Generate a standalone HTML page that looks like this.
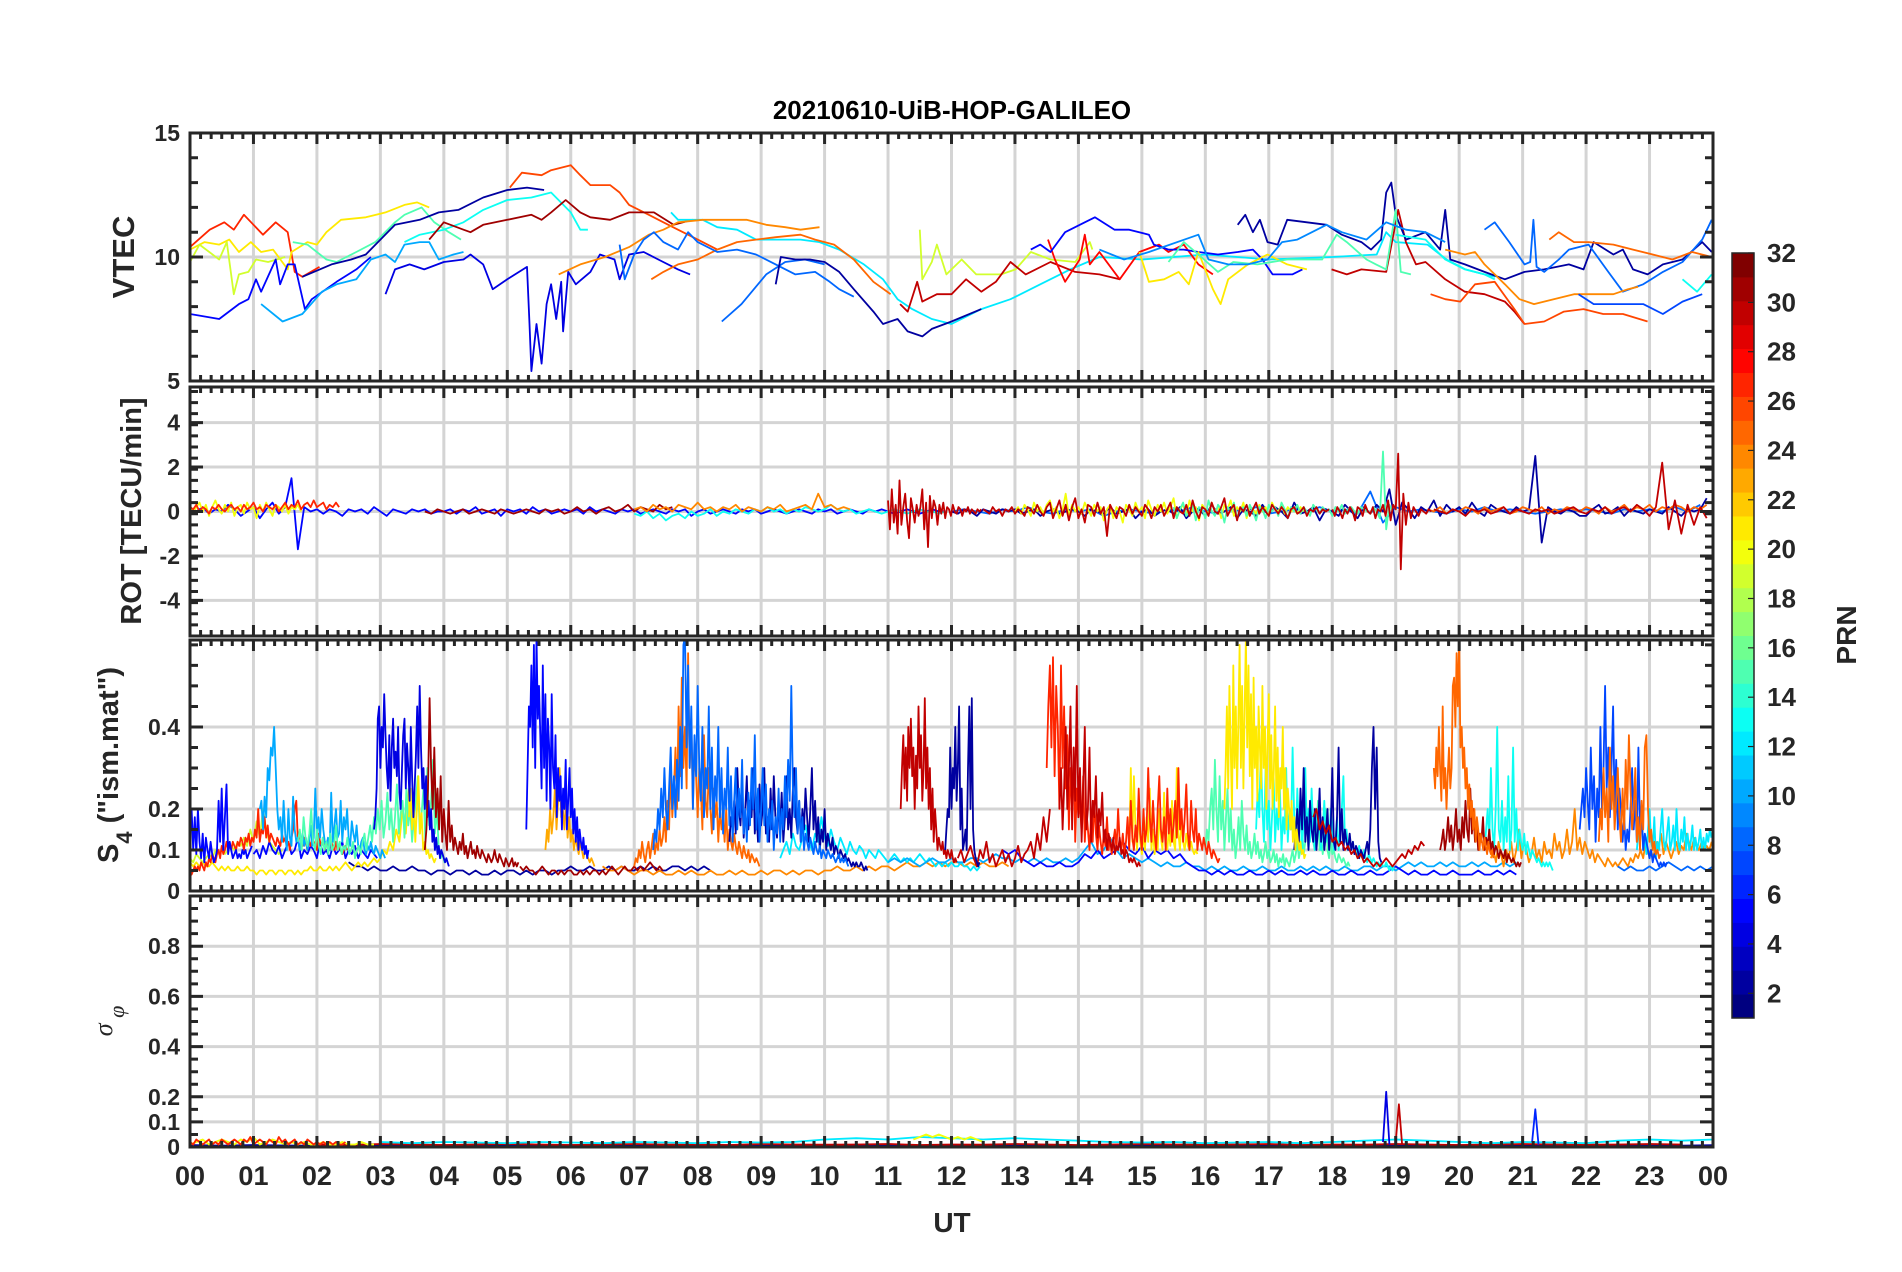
<!DOCTYPE html>
<html><head><meta charset="utf-8"><title>20210610-UiB-HOP-GALILEO</title>
<style>
html,body{margin:0;padding:0;background:#fff;}
svg{display:block;font-family:"Liberation Sans",Arial,sans-serif;}
</style></head>
<body>
<svg id="chart" width="1902" height="1272" viewBox="0 0 1902 1272" xmlns="http://www.w3.org/2000/svg">
<rect x="0" y="0" width="1902" height="1272" fill="#fff"/>
<text x="952" y="119" text-anchor="middle" font-size="26" font-weight="bold" fill="#000">20210610-UiB-HOP-GALILEO</text>
<g id="grids"></g>
<g id="series"></g>
<g id="axes"></g>
<text transform="translate(134,257) rotate(-90)" text-anchor="middle" font-size="31" font-weight="bold" fill="#262626">VTEC</text>
<text transform="translate(141,511) rotate(-90)" text-anchor="middle" font-size="29" font-weight="bold" fill="#262626">ROT [TECU/min]</text>
<text transform="translate(118,765) rotate(-90)" text-anchor="middle" font-size="29" font-weight="bold" fill="#262626">S<tspan font-size="22" dy="14">4</tspan><tspan dy="-14"> ("ism.mat")</tspan></text>
<text transform="translate(112,1021) rotate(-90)" text-anchor="middle" font-size="26" font-style="italic" font-family="Liberation Serif,serif" fill="#262626">σ<tspan font-size="22" dy="12"> φ</tspan></text>
<text x="952" y="1232" text-anchor="middle" font-size="28" font-weight="bold" fill="#262626">UT</text>
<g id="cbar"></g>
<text transform="translate(1856,635) rotate(-90)" text-anchor="middle" font-size="28" font-weight="bold" fill="#262626">PRN</text>
</svg>
<script>
// ===== X axis =====
const hourTickLabels = ["00","01","02","03","04","05","06","07","08","09","10","11","12","13","14","15","16","17","18","19","20","21","22","23","00"];
const colorbarTicks = [2,4,6,8,10,12,14,16,18,20,22,24,26,28,30,32];

// ===== VTEC series: [hour, TECU] =====
const vtecPrn27 = [[0,10.4],[0.31,11.1],[0.54,11.4],[0.69,11.1],[0.85,11.7],[1.15,10.9],[1.35,11.4],[1.54,11.0],[1.65,9.4],[1.77,9.2],[2.04,9.6]];
const vtecPrn21a = [[0,10.3],[0.23,10.6],[0.46,10.5],[0.62,10.7],[0.77,10.2],[0.96,10.6],[1.12,10.2],[1.31,10.3],[1.54,9.5],[1.6,10.2],[1.85,10.6],[2.0,10.5],[2.15,11.0],[2.38,11.5],[2.77,11.6],[3.08,11.8],[3.38,12.1],[3.58,12.2],[3.77,12.0]];
const vtecPrn19a = [[0,9.8],[0.15,10.5],[0.46,9.9],[0.58,10.6],[0.69,8.5],[0.77,9.3],[0.92,9.4],[1.04,9.9],[1.23,9.8],[1.5,10.0]];
const vtecPrn15a = [[1.62,10.6],[1.85,10.5],[2.15,9.9],[2.31,9.8],[2.62,10.2],[2.92,10.6],[3.23,11.4],[3.38,11.7],[3.65,12.0],[3.85,11.4],[4.08,11.0],[4.27,10.7]];
const vtecPrn5a = [[0,7.7],[0.46,7.5],[0.77,8.1],[0.92,8.3],[1.04,9.1],[1.12,8.6],[1.35,9.9],[1.42,8.9],[1.54,9.7],[1.65,9.7],[1.81,7.9],[1.92,8.3],[2.31,9.0],[2.62,9.5],[2.85,10.0]];
const vtecPrn2a = [[1.77,9.2],[2.23,9.7],[2.54,9.9],[2.77,10.1],[3.0,10.7],[3.23,11.3],[3.62,11.5],[3.92,11.8],[4.23,11.9],[4.62,12.4],[5.0,12.7],[5.31,12.8],[5.58,12.7]];
const vtecPrn4 = [[3.08,8.5],[3.23,9.5],[3.46,9.7],[3.69,9.5],[4.0,9.8],[4.31,9.9],[4.42,10.1],[4.62,9.7],[4.77,8.7],[5.0,9.1],[5.31,9.6],[5.35,7.3],[5.38,5.4],[5.46,7.3],[5.54,5.7],[5.62,8.1],[5.69,8.9],[5.77,7.5],[5.85,9.0],[5.88,7.0],[5.96,9.4],[6.08,8.9],[6.31,9.4],[6.46,10.1],[6.69,9.9],[6.77,9.1],[6.92,10.1],[7.15,10.2],[7.38,9.9],[7.69,9.5],[7.88,9.3]];
const vtecPrn10 = [[1.12,8.1],[1.46,7.4],[1.77,7.7],[2.08,8.6],[2.31,8.9],[2.62,9.1],[2.85,9.9],[3.08,10.1],[3.23,9.8],[3.38,10.5],[3.62,10.6],[3.77,10.6],[3.92,9.9],[4.15,10.1],[4.31,10.2]];
const vtecPrn13a = [[3.38,10.6],[3.62,10.9],[4.0,11.1],[4.31,11.4],[4.62,11.9],[5.0,12.3],[5.38,12.4],[5.69,12.6],[6.0,11.8],[6.15,11.1],[6.27,11.1]];
const vtecPrn26a = [[5.04,12.8],[5.23,13.4],[5.54,13.3],[5.69,13.5],[6.0,13.7],[6.15,13.3],[6.31,12.9],[6.62,12.9],[6.77,12.6],[6.92,12.1],[7.23,11.7],[7.46,11.4],[7.69,11.1],[8.0,10.7],[8.31,10.3]];
const vtecPrn31a = [[3.77,10.7],[4.0,11.4],[4.31,11.1],[4.42,11.0],[4.62,11.3],[5.0,11.5],[5.38,11.7],[5.54,11.5],[5.69,11.8],[5.92,12.3],[6.15,11.8],[6.31,11.6],[6.62,11.5],[6.92,11.8],[7.31,11.8],[7.62,11.3],[7.92,11.5]];
const vtecPrn12 = [[7.58,11.8],[7.69,11.5],[8.08,11.5],[8.31,11.2],[8.62,11.1],[8.92,10.7],[9.23,10.7],[9.62,10.7],[9.92,10.6],[10.23,10.3],[10.62,9.7],[10.92,9.1],[11.15,8.3],[11.38,7.9],[11.69,7.5],[12.0,7.3],[12.47,7.9],[12.93,8.3],[13.4,8.9],[13.87,9.5],[14.33,10.0],[15,9.9],[16,10.1],[17,9.9],[18,10.0],[18.7,10.1],[18.85,11.0],[19,10.6],[19.5,10.5],[19.8,9.9],[20.1,9.5],[20.4,9.3],[20.57,9.2]];
const vtecPrn24a = [[5.81,9.3],[6.15,9.7],[6.54,10.0],[6.92,10.4],[7.23,10.9],[7.46,11.1],[7.69,11.4],[8.08,11.5],[8.46,11.5],[8.77,11.5],[9.08,11.3],[9.38,11.2],[9.62,11.1],[9.92,11.2]];
const vtecPrn25a = [[7.27,9.1],[7.46,9.4],[7.69,9.7],[8.0,9.9],[8.31,10.3],[8.62,10.6],[8.92,10.7],[9.23,10.8],[9.62,10.9],[9.85,10.7],[10.15,10.5],[10.46,9.9],[10.77,9.0],[11.04,8.5]];
const vtecPrn8a = [[6.77,10.5],[6.85,9.1],[7.0,10.1],[7.15,10.7],[7.31,11.0],[7.46,10.6],[7.69,10.3],[7.85,11.0],[8.0,10.6],[8.31,10.2],[8.62,10.3],[8.92,10.1],[9.23,9.7],[9.54,9.3],[9.85,9.4],[10.08,9.0],[10.23,8.7],[10.46,8.4]];
const vtecPrn8b = [[8.38,7.4],[8.69,8.1],[9.08,9.3],[9.38,9.8],[9.69,9.9],[10.0,9.7]];
const vtecPrn2b = [[9.23,8.9],[9.31,10.0],[9.54,9.9],[9.77,9.9],[10.0,9.8],[10.23,9.4],[10.46,8.7],[10.77,7.8],[10.92,7.3],[11.15,7.5],[11.31,7.0],[11.54,6.8],[11.69,7.1],[12.0,7.4],[12.47,7.9]];
const vtecPrn19b = [[11.5,11.1],[11.54,9.1],[11.69,9.8],[11.77,10.5],[11.92,9.3],[12.0,9.5],[12.16,9.9],[12.39,9.3],[12.78,9.3],[13.01,9.5],[13.25,10.2],[13.56,9.9],[13.95,9.8],[14.18,10.6],[14.22,10.3]];
const vtecPrn30a = [[11.19,8.1],[11.31,7.8],[11.46,9.0],[11.54,8.2],[11.77,8.5],[12.0,8.5],[12.23,9.1],[12.47,8.6],[12.7,9.0],[12.93,9.8],[13.17,9.3],[13.56,9.8],[13.95,9.4],[14.33,9.3],[14.65,9.1]];
const vtecPrn30b = [[17.99,9.5],[18.23,9.3],[18.46,9.5],[18.85,9.4],[19.04,11.9],[19.16,10.6],[19.32,9.7],[19.47,9.8],[19.78,9.1],[20.09,8.6],[20.4,8.5],[20.72,8.2],[20.87,7.8],[21.03,7.3]];
const vtecPrn28 = [[13.52,10.7],[13.63,9.9],[13.79,9.0],[14.02,9.9],[14.1,10.9],[14.18,9.7],[14.33,10.2],[14.65,9.1],[14.96,10.2],[15.27,10.5],[15.42,10.2],[15.66,10.5],[15.89,9.7],[16.12,9.3]];
const vtecPrn5b = [[13.25,10.3],[13.4,10.5],[13.56,10.2],[13.79,11.0],[14.1,11.4],[14.26,11.6],[14.57,11.1],[14.8,11.1],[15.11,10.9],[15.19,10.5],[15.42,10.3],[15.66,10.3],[15.89,10.2],[16.2,10.1],[16.51,10.2],[16.75,10.3],[16.9,9.9],[17.06,9.3],[17.37,9.3],[17.53,9.5]];
const vtecPrn2c = [[16.51,11.3],[16.63,11.7],[16.75,11.0],[16.86,11.5],[16.98,10.6],[17.14,10.5],[17.29,11.5],[17.6,11.4],[17.91,11.3],[18.15,10.9],[18.46,10.6],[18.61,10.3],[18.77,10.7],[18.85,12.6],[18.93,13.0],[19.0,11.7],[19.16,10.7],[19.47,11.0],[19.7,10.3],[19.78,11.9],[19.86,9.9],[20.09,9.7],[20.4,9.4],[20.72,9.1],[21.03,9.4],[21.34,9.5],[21.73,9.7],[21.96,9.5],[22.12,10.6],[22.43,10.1],[22.58,10.3],[22.74,9.5],[22.97,9.3],[23.21,9.7],[23.52,9.9],[23.83,10.6],[23.98,10.2]];
const vtecPrn21b = [[14.96,10.2],[15.11,9.0],[15.35,9.1],[15.58,9.4],[15.74,8.9],[15.89,10.2],[16.12,8.7],[16.24,8.1],[16.36,9.1],[16.67,9.7],[16.98,10.1],[17.29,9.7],[17.6,9.5]];
const vtecPrn15b = [[15.42,9.8],[15.66,10.6],[15.89,10.1],[16.2,9.4],[16.44,9.8],[16.82,9.7],[17.29,9.9],[17.84,9.9],[18.07,10.9],[18.23,10.6],[18.54,9.9],[18.69,9.7],[18.85,9.5],[19.0,11.9],[19.08,9.4],[19.24,9.3]];
const vtecPrn9 = [[14.33,10.3],[14.72,9.9],[15.11,10.2],[15.89,10.9],[16.05,9.9],[16.36,9.7],[16.67,9.7],[16.98,9.9],[17.21,10.6],[17.45,10.7],[17.91,11.3],[18.15,11.0],[18.54,10.7],[18.85,11.4],[19.16,11.1],[19.47,11.0],[19.78,10.6]];
const vtecPrn13b = [[19.0,10.9],[19.47,10.7],[19.78,9.9],[20.09,9.5],[20.4,9.3],[20.56,9.1]];
const vtecPrn13c = [[23.52,9.1],[23.75,8.6],[23.98,9.3]];
const vtecPrn8c = [[20.4,11.1],[20.56,11.4],[20.79,10.6],[21.03,9.7],[21.12,9.8],[21.17,11.5],[21.22,9.6],[21.34,9.4],[21.57,9.9],[21.73,10.3],[22.04,10.5],[22.35,9.4],[22.58,8.6],[22.9,8.9],[23.21,9.4],[23.52,9.8],[23.83,10.7],[23.98,11.5]];
const vtecPrn26b = [[19.55,8.5],[19.78,8.3],[20.02,8.2],[20.25,8.9],[20.56,9.0],[20.87,7.9],[21.03,7.3],[21.34,7.4],[21.65,7.8],[21.96,7.9],[22.27,7.7],[22.58,7.7],[22.97,7.4]];
const vtecPrn24b = [[19.78,10.3],[20.09,10.1],[20.25,10.2],[20.4,9.7],[20.72,8.9],[20.95,8.3],[21.18,8.1],[21.49,8.3],[21.81,8.5],[22.12,8.5],[22.43,8.5],[22.66,8.7],[22.82,8.8]];
const vtecPrn25b = [[21.42,10.7],[21.57,11.0],[21.81,10.6],[22.04,10.6],[22.43,10.5],[22.74,10.3],[23.05,10.1],[23.36,9.9],[23.67,10.2],[23.98,10.0]];
const vtecPrn7 = [[21.88,8.5],[22.12,8.1],[22.51,8.1],[22.9,8.1],[23.21,7.7],[23.52,8.2],[23.83,8.5]];
const vtecSeries = [[27,vtecPrn27],[21,vtecPrn21a],[19,vtecPrn19a],[15,vtecPrn15a],[5,vtecPrn5a],[2,vtecPrn2a],[4,vtecPrn4],[10,vtecPrn10],[13,vtecPrn13a],[26,vtecPrn26a],[31,vtecPrn31a],[12,vtecPrn12],[24,vtecPrn24a],[25,vtecPrn25a],[8,vtecPrn8a],[8,vtecPrn8b],[2,vtecPrn2b],[19,vtecPrn19b],[30,vtecPrn30a],[30,vtecPrn30b],[28,vtecPrn28],[5,vtecPrn5b],[2,vtecPrn2c],[21,vtecPrn21b],[15,vtecPrn15b],[9,vtecPrn9],[13,vtecPrn13b],[13,vtecPrn13c],[8,vtecPrn8c],[26,vtecPrn26b],[24,vtecPrn24b],[25,vtecPrn25b],[7,vtecPrn7]];

// ===== ROT series: sampled values =====
const rotPrn27 = [0.2,0.1,0.3,0.0,0.2,0.1,-0.1,0.2,0.1,0.3,0.1,0.0,0.2,0.3,0.1,0.2,0.0,0.3,0.1,0.2,0.4,0.1,0.2,0.0,0.3,0.2,0.1,0.3,0.0,0.2,0.4,0.1,0.3,0.2,0.5,0.1,0.3,0.4,0.2,0.5,0.2,0.3,0.4,0.1,0.3,0.2,0.4,0.2];
const rotPrn20a = [0.3,-0.1,0.2,0.4,0.0,0.3,-0.2,0.2,0.5,0.1,-0.1,0.3,0.0,0.4,-0.2,0.2,0.3,-0.1,0.4,0.1,0.2,-0.3,0.3,0.0,0.4,0.1,-0.2,0.3,0.2,0.0,0.3,-0.1,0.2,0.1,0.3,0.0];
const rotPrn5 = [0.1,0.0,0.2,-0.1,0.1,0.0,0.3,0.1,-0.2,0.0,0.2,-0.3,0.1,0.4,-0.1,0.2,1.5,-1.7,0.2,0.0,0.1,-0.1,0.1,0.0,-0.2,0.1,0.0,0.1,-0.1,0.2,0.0,-0.2,0.1,0.0,-0.1,0.1,0.0,0.1,-0.1,0.0,0.0,0.1,-0.1,0.1,0.0,0.2,-0.1,0.0,0.1,-0.2,0.1,0.0,0.1,-0.1,0.2,0.0,0.1,-0.1,0.0,0.1,0.0,0.1,-0.1,0.2,0.0,0.1,0.0,-0.1,0.1,0.0,0.1,-0.1,0.0,0.1,0.0,-0.1,0.1,0.0,0.1,-0.2,0.0,0.1,-0.1,0.0,0.1,0.0,-0.1,0.1,0.0,0.1,-0.1,0.0,0.1,0.0,-0.1,0.0,0.1,0.0,-0.1,0.1,0.0,0.1,-0.1,0.0,0.1,0.0,-0.1,0.1,0.0,0.1,0.0,-0.1,0.0,0.1,0.0,-0.1,0.0,0.1,0.0,0.0];
const rotPrn31 = [0.0,-0.1,0.1,0.0,-0.1,0.0,0.1,-0.1,0.0,0.1,0.0,-0.1,0.1,0.0,-0.1,0.0,0.1,0.0,-0.1,0.1,0.0,0.1,-0.1,0.0,0.2,0.0,0.1,-0.1,0.1,0.2,0.0,0.1,0.3,0.0,0.2,0.1,0.0,0.3,0.1,0.2];
const rotPrn13 = [-0.1,-0.2,0.0,-0.3,-0.1,-0.4,-0.2,-0.1,-0.3,0.0,-0.2,-0.1,0.1,-0.2,0.0,-0.1,0.1,0.0,-0.1,0.1,0.0,0.2,0.0,0.1,-0.1,0.1,0.0,0.2,0.1,0.0,0.1,0.3,0.1,0.0,0.1,-0.1,0.0,0.1,0.0,-0.1,0.0,0.1,0.0,-0.1,0.0,0.1,0.0,0.0,-0.1,0.0];
const rotPrn24 = [0.1,0.2,0.0,0.3,0.1,0.2,0.0,0.3,0.2,0.1,0.4,0.1,0.2,0.0,0.2,0.1,0.3,0.0,0.2,0.1,0.0,0.2,0.1,0.3,0.0,0.1,0.2,0.3,0.1,0.8,0.2,0.3,0.1,0.2,0.1];
const rotPrn30a = [0.5,-0.8,1.0,-0.5,0.3,-1.0,1.4,-0.6,0.2,0.8,-0.4,-1.2,0.6,0.1,-0.5,0.3,-0.2,0.2,1.0,-0.8,0.4,-1.6,0.7,-0.3,0.5,0.2,-0.6,0.3,-0.1,0.4,-0.3,0.2,0.1,-0.2,0.3,0.0,-0.1,0.2,0.1,-0.2,0.1,0.0,0.2,-0.1,0.1,0.0,-0.1,0.1,0.0,0.1];
const rotPrn30b = [0.1,0.0,-0.1,0.2,0.0,0.1,-0.2,0.1,0.0,0.2,-0.1,0.1,0.0,-0.2,0.2,0.1,-0.1,0.3,0.0,-0.2,0.2,0.4,-0.3,0.1,0.5,-0.2,0.3,-0.4,0.2,0.6,-0.3,0.1,-0.5,0.3,0.2,-0.2,0.4,-0.1,0.2,-1.1,0.3,0.0,-0.3,0.2,0.1,-0.2,0.3,-0.1,0.2,0.0,-0.2,0.3,0.1,-0.3,0.2,0.0,0.3,-0.2,0.1,0.4,-0.3,0.2,0.0,-0.1,0.3,-0.2,0.5,0.0,-0.3,0.2,0.1,-0.2,0.4,0.0,-0.1,0.2,0.6,-0.2,0.1,0.3,-0.4,0.2,0.0,0.3,-0.2,0.1,0.4,-0.1,0.2,0.0,-0.2,0.3,0.1,-0.1,0.2,0.0,-0.3,0.1,0.2,-0.1,0.0,0.2,-0.2,0.1,0.0,0.2,-0.1,0.1,0.0,0.1];
const rotPrn30c = [0.1,-0.2,0.2,0.0,-0.3,0.1,-0.1,0.2,0.0,-0.4,0.2,0.1,-0.2,0.3,0.0,-0.1,0.2,-0.3,0.1,0.0,0.3,-0.2,0.5,-0.4,0.3,0.1,2.6,-2.6,0.8,-0.6,0.4,-0.3,0.2,0.0,-0.2,0.1,0.0,-0.1,0.1,0.0];
const rotPrn30d = [0.1,0.0,-0.1,0.1,0.0,-0.2,0.1,0.0,0.1,-0.1,0.0,0.2,-0.1,0.1,0.0,-0.1,0.1,0.0,0.1,-0.1,0.0,0.1,0.2,0.0,-0.1,0.1,0.0,0.2,-0.1,0.1,0.2,0.0,0.3,0.1,-0.2,0.2,2.2,-0.8,0.5,-1.0,0.3,-0.6,0.2,-0.3];
const rotPrn20b = [0.0,0.2,-0.1,0.3,0.1,-0.2,0.4,0.0,0.2,-0.1,0.3,0.5,0.0,0.2,-0.3,0.1,0.8,-0.2,0.3,0.0,0.2,-0.1,0.4,0.1,-0.2,0.3,0.0,0.2,-0.4,0.1,0.3,-0.3,0.2,0.0,-0.5,0.3,0.1,-0.2,0.4,0.0,0.2,-0.3,0.5,0.1,-0.2,0.3,0.0,0.4,-0.1,0.2,0.6,-0.3,0.1,0.3,-0.2,0.5,0.0,0.2,-0.4,0.3,0.1,-0.1,0.4,0.0,0.2,-0.3,0.3,0.1,0.5,-0.2,0.2,0.0,0.4,-0.3,0.2,0.1,-0.1,0.3,0.0,0.2,-0.2,0.4,0.1,0.0,0.3,-0.1,0.2,0.0,0.1,-0.1,0.2,0.0];
const rotPrn15 = [0.2,-0.3,0.1,0.4,-0.2,0.0,0.3,-0.4,0.2,0.1,-0.3,0.5,0.0,-0.2,0.3,0.1,-0.5,0.2,0.0,0.4,-0.3,0.1,0.2,-0.2,0.3,0.0,-0.4,0.2,0.1,-0.3,0.3,0.0,0.2,-0.2,0.4,0.1,-0.3,0.2,0.0,0.3,-0.1,0.2,0.0,-0.2,0.3,0.1,-0.1,0.2,0.0,0.1,-0.2,0.2,0.0,0.3,-0.1,0.1,0.2,0.0,-0.1,0.2,0.1,0.0,-0.1,0.2,0.0,-0.3,2.7,-0.8,0.3,0.0];
const rotPrn2 = [0.0,-0.1,0.1,0.0,-0.2,0.1,0.0,-0.1,0.1,0.0,0.1,-0.1,0.0,0.1,-0.2,0.0,0.1,-0.1,0.0,0.1,0.0,-0.2,0.1,0.0,-0.1,0.2,-0.1,0.0,0.1,-0.3,0.0,0.1,-0.2,0.0,0.1,-0.1,0.2,-0.3,0.0,0.1,-0.2,0.3,-0.1,0.0,0.2,-0.3,0.1,0.0,-0.2,0.3,-0.1,0.2,0.0,-0.3,0.4,-0.1,0.0,0.2,-0.4,0.1,0.0,-0.2,0.3,0.0,-0.3,0.2,-0.1,0.3,0.0,1.0,-0.6,0.4,0.1,-0.3,0.2,0.0,0.5,-0.2,0.3,0.0,0.2,-0.1,0.4,0.0,-0.2,0.3,0.1,0.0,-0.1,0.2,0.0,0.1,2.5,-1.4,0.2,0.0,-0.1,0.1,0.0,-0.2,-0.2,0.1,0.3,-0.1,0.0,0.2,-0.2,0.1,0.0,-0.1,0.1,0.0,-0.1,0.2,0.0,-0.2,0.1,0.0,0.1,0.6];
const rotPrn25 = [0.1,0.0,0.2,-0.1,0.1,0.0,0.2,0.1,-0.1,0.2,0.0,0.1,0.2,-0.1,0.0,0.2,0.1,0.0,0.2,-0.1,0.1,0.0,0.2,0.1,0.0,0.2,0.1,-0.1,0.2,0.0,0.1,0.3,0.0,0.2,0.1,0.3,0.0,0.2,0.1,0.3,0.2,0.0,0.2,0.1,0.3];
const rotPrn8 = [0.0,0.1,0.0,-0.1,0.1,0.0,0.2,0.0,-0.1,0.1,0.0,0.1,-0.2,0.0,0.1,0.0,-0.1,0.1,0.0,0.2,0.0,-0.1,0.1,0.0,0.2,-0.1,0.0,0.1,0.0,0.2,0.0,0.1,-0.1,0.9,-0.5,0.2,0.0,0.1,0.0,-0.1,0.1,0.0,0.2,0.0,0.1,0.0,-0.1,0.0,0.1,0.0,0.1,0.0,-0.1,0.1,0.0,0.1,0.0,0.2,0.0,0.3];
// [prn, start hour, sample interval (h), values]
const rotSeries = [[5,0,0.1,rotPrn5],[31,3.7,0.1,rotPrn31],[13,7,0.1,rotPrn13],[24,7,0.1,rotPrn24],[20,0,0.05,rotPrn20a],[27,0,0.05,rotPrn27],[8,12,0.2,rotPrn8],[2,12,0.1,rotPrn2],[20,13,0.05,rotPrn20b],[15,15.5,0.05,rotPrn15],[25,19.5,0.1,rotPrn25],[30,11,0.03,rotPrn30a],[30,12.5,0.05,rotPrn30b],[30,18,0.04,rotPrn30c],[30,19.6,0.1,rotPrn30d]];

// ===== S4 series =====
const s4Prn5a = [.15,.2,.1,.18,.09,.2,.12,.08,.14,.07,.13,.1,.08,.12,.09,.07,.08,.1,.22,.12,.25,.1,.18,.26,.09,.12,.1,.08,.09,.1,.08,.09,.08,.1,.09,.1,.08,.09,.1,.11];
const s4Prn5b = [.09,.1,.08,.11,.09,.12,.1,.09,.11,.08,.1,.12,.09,.1,.13,.08,.1,.09,.11,.1,.08,.12,.09,.1,.08,.11,.09,.1,.12,.08,.1,.09,.11,.08,.1,.09,.08,.1,.09,.08];
const s4Prn10a = [.2,.22,.15,.23,.18,.3,.27,.35,.33,.4,.3,.2,.15,.18,.12,.22,.14,.1,.2,.13,.11,.23,.15,.12,.13,.1,.12,.14,.11,.13,.1,.12,.16,.11,.13,.25,.14,.18,.13,.2,.15,.12,.11,.13,.1,.24,.12,.16,.2,.13,.14,.22,.12,.18,.15,.2,.13,.11,.17,.14,.12,.16,.11,.1,.12,.13,.1,.09,.11,.1,.12,.1,.09,.11,.1,.09,.08,.1,.09,.08];
const s4Prn27a = [.05,.04,.05,.06,.05,.06,.05,.07,.06,.05,.07,.06,.08,.07,.09,.08,.07,.09,.1,.08,.11,.09,.1,.12,.1,.11,.1,.12,.11,.1,.12,.11,.13,.12,.1,.13,.12,.14,.11,.13,.12,.15,.13,.2,.12,.15,.14,.18,.13,.16,.12,.14,.13,.12,.11,.13,.12,.11,.14,.12,.13,.11,.12,.1,.13,.15,.2,.22,.12,.14,.12,.11,.13,.12,.1,.12,.11,.13,.12,.11,.1,.14,.12,.11,.13,.1,.12,.11,.1,.12,.11,.1,.12,.1,.11,.1,.09,.1,.11,.1];
const s4Prn21a = [.07,.06,.07,.06,.07,.06,.06,.07,.06,.05,.06,.05,.06,.05,.05,.06,.05,.05,.06,.05,.05,.04,.05,.05,.04,.05,.05,.04,.05,.05,.04,.05,.05,.04,.05,.04,.05,.05,.06,.05,.05,.06,.05,.05,.06,.05,.06,.05,.06,.07,.06,.05,.06,.07,.06,.07,.06,.07,.08,.07,.08,.1,.09,.12,.1,.15,.12,.2,.14,.25];
const s4Prn21b = [.18,.25,.15,.22,.12,.2,.28,.14,.19,.1,.12,.09,.1,.08,.09,.08,.07,.08];
const s4Prn19 = [.08,.07,.09,.08,.07,.08,.09,.08,.1,.09,.1,.09,.1,.11,.1,.12,.11,.13,.11,.15,.12,.17,.13,.2,.15,.12,.11,.1,.09,.1];
const s4Prn15a = [.12,.15,.1,.18,.13,.11,.14,.2,.12,.1,.15,.11,.09,.13,.1,.12,.09,.14,.1,.11,.16,.1,.12,.09,.11,.1,.13,.09,.1,.12,.08,.1,.11,.09,.12,.14,.1,.13,.16,.12,.18,.14,.2,.15,.22,.13,.17,.24,.15,.2,.12,.18,.26,.14,.19,.22,.13,.25,.16,.2,.12,.18,.22,.28,.14,.19,.25,.12,.3,.16,.22,.32,.14,.2,.1,.08,.09,.07,.08];
const s4Prn4 = [.15,.18,.25,.42,.45,.3,.4,.35,.48,.38,.3,.25,.38,.22,.35,.42,.3,.34,.28,.4,.24,.2,.3,.38,.42,.25,.36,.3,.22,.4,.28,.18,.25,.33,.45,.3,.5,.35,.25,.3,.2,.28,.18,.22,.15,.2,.12,.15,.1,.13,.09,.11,.08,.1,.09,.08,.07,.08,.07,.06];
const s4Prn2a = [.07,.06,.06,.05,.06,.05,.05,.06,.05,.05,.06,.05,.05,.04,.05,.05,.04,.05,.05,.04,.05,.04,.04,.05,.04,.05,.05,.04,.05,.04,.05,.05,.04,.05,.05,.06,.05,.05,.06,.05,.05,.06,.05,.06,.05,.05,.06,.05,.06,.05,.05,.06,.06,.05,.06,.05,.06,.05];
const s4Prn31a = [.1,.15,.25,.47,.3,.2,.35,.18,.25,.15,.28,.12,.2,.14,.1,.22,.12,.16,.1,.13,.11,.09,.12,.1,.14,.09,.11,.08,.1,.12,.09,.1,.08,.11,.09,.08,.1,.09,.08,.07,.09,.08,.07,.08,.1,.08,.07,.09,.08,.07,.06,.08,.07,.06,.07,.08,.06,.07,.06,.07];
const s4Prn31b = [.06,.05,.06,.05,.05,.04,.05,.06,.05,.04,.05,.05,.04,.05,.04,.05,.05,.04,.04,.05,.04,.05,.04,.05,.05,.04,.05,.04,.05,.06,.05,.04,.05,.06,.05,.05,.06,.05,.06,.05,.06,.07,.06,.05,.06,.05];
const s4Prn5c = [.15,.3,.45,.4,.55,.35,.6,.3,.62,.42,.5,.38,.25,.55,.3,.48,.22,.42,.35,.2,.48,.3,.25,.38,.18,.3,.22,.28,.15,.25,.2,.32,.15,.22,.3,.18,.25,.14,.2,.12,.18,.1,.15,.12,.1,.13,.09,.11,.08,.1];
const s4Prn23 = [.1,.15,.12,.2,.14,.18,.25,.15,.22,.3,.18,.2,.15,.22,.13,.18,.12,.15,.1,.13,.11,.09,.12,.1,.08,.1,.09,.08,.07,.08,.07,.06];
const s4Prn24a = [.06,.05,.05,.06,.05,.04,.05,.05,.04,.05,.04,.04,.05,.04,.05,.04,.04,.05,.04,.04,.05,.04,.05,.04,.04,.05,.04,.05,.05,.04,.05,.04,.05,.05,.04,.05,.05,.06,.05,.05,.06,.05,.06,.05,.06,.06,.05,.06,.07,.06,.06,.07,.06,.07,.06,.07,.07,.06,.07,.06,.07,.06,.06,.07,.06];
const s4Prn25a = [.06,.08,.07,.1,.08,.12,.09,.07,.1,.12,.08,.11,.14,.09,.12,.1,.15,.11,.13,.18,.12,.22,.15,.3,.18,.25,.35,.2,.45,.28,.52,.3,.4,.25,.58,.3,.42,.2,.35,.28,.18,.3,.25,.15,.38,.22,.18,.3,.2,.14,.25,.18,.22,.12,.2,.15,.18,.12,.2,.1,.15,.12,.1,.14,.11,.09,.12,.1,.08,.11,.09,.08,.1,.07,.09,.08,.07,.08,.07,.06];
const s4Prn8a = [.1,.15,.12,.2,.15,.25,.18,.3,.2,.15,.25,.35,.2,.28,.18,.32,.22,.4,.25,.6,.62,.35,.55,.3,.45,.2,.38,.28,.5,.3,.22,.4,.18,.3,.25,.45,.2,.35,.15,.28,.22,.4,.18,.3,.14,.25,.2,.35,.16,.28,.12,.22,.3,.15,.25,.18,.32,.14,.2,.12,.24,.16,.3,.2,.38,.15,.25,.12,.2,.3,.16,.26,.12,.2,.15,.22,.1,.18,.14,.25,.12,.2,.15,.28,.18,.32,.22,.5,.25,.18,.3,.14,.22,.12,.18,.1,.14,.12,.1,.13,.11,.09,.12,.1,.09,.11,.08,.1,.09,.08,.1,.09,.08,.09,.08,.07,.08,.09,.07,.08,.07,.08,.07,.06];
const s4Prn2b = [.12,.18,.15,.22,.14,.3,.2,.16,.25,.13,.2,.28,.15,.22,.18,.3,.14,.2,.12,.26,.16,.2,.3,.14,.18,.12,.25,.15,.28,.18,.13,.2,.16,.24,.12,.18,.28,.15,.2,.13,.25,.3,.18,.14,.22,.12,.2,.15,.25,.18,.12,.2,.3,.15,.22,.12,.18,.1,.15,.12,.2,.1,.14,.12,.1,.13,.09,.11,.1,.08,.1,.09,.08,.09,.07,.08,.07,.06,.07,.06,.07,.06,.06,.07,.06,.05,.06,.05];
const s4Prn12a = [.08,.1,.12,.09,.14,.11,.1,.13,.16,.12,.1,.14,.12,.18,.13,.11,.15,.12,.1,.13,.11,.09,.12,.1,.09,.11,.1,.08,.1,.09,.08,.1,.09,.08,.07,.08,.09,.08,.07,.08,.07,.08,.07,.08,.09,.08,.07,.08,.07,.06,.07,.06,.07,.06,.07,.06,.06,.07,.06,.06,.05,.06,.05,.06];
const s4Prn30a = [.2,.3,.38,.25,.35,.22,.4,.3,.42,.28,.35,.2,.33,.25,.45,.3,.38,.22,.3,.47,.25,.35,.2,.3,.15,.25,.12,.2,.15,.1,.13,.11,.1,.12,.09,.1,.08,.1,.09,.08,.1,.08,.07,.08,.07];
const s4Prn30b = [.08,.1,.07,.09,.11,.08,.06,.1,.08,.12,.07,.09,.06,.08,.1,.07,.09,.06,.08,.11,.07,.09,.1,.12,.08,.14,.1,.18,.12,.2];
const s4Prn2c = [.1,.15,.2,.18,.35,.2,.3,.25,.4,.22,.3,.45,.15,.25,.1,.12,.15,.1,.3,.45,.2,.47,.15,.1,.08,.07,.06,.07];
const s4Prn27b = [.3,.45,.55,.35,.57,.28,.5,.4,.2,.55,.3,.45,.25,.38,.15,.3,.2,.35,.12,.25,.18,.22,.14,.28,.12,.2,.15,.1,.18,.12,.22,.14,.1,.16,.12,.09,.14,.11,.18,.1,.13,.09,.12,.15,.1,.2,.12,.1,.14,.09,.12,.18,.1,.22,.13,.1,.16,.12,.25,.14,.1,.2,.12,.15,.3,.18,.12,.22,.14,.1,.2,.28,.15,.12,.18,.1,.25,.14,.2,.12,.16,.22,.13,.3,.15,.2,.12,.18,.26,.14,.1,.22,.15,.12,.2,.1,.14,.12,.1,.13,.11,.09,.12,.1,.08,.1,.09,.08,.07,.08];
const s4Prn30c = [.2,.3,.15,.25,.4,.2,.3,.45,.15,.35,.22,.5,.18,.3,.12,.25,.4,.15,.2,.35,.12,.22,.18,.28,.13,.2,.16,.24,.12,.15,.1,.14,.12,.1,.13,.09,.11,.1,.13,.09,.1,.08,.1,.09,.07,.08,.07,.08,.07,.06,.07,.06];
const s4Prn5d = [.1,.09,.1,.08,.07,.06,.07,.06,.06,.07,.06,.06,.07,.09,.08,.1,.08,.09,.1,.12,.1,.09,.11,.08,.1,.09,.1,.08,.09,.07,.06,.05,.05,.04,.05,.04,.05,.04,.04,.05,.04,.04,.05,.04,.05,.04,.04,.05,.04,.05,.04,.04,.05,.04,.04,.05,.04,.04,.05,.04,.04,.05,.06,.05,.04,.05,.04,.04,.05,.04,.04,.05,.04,.04,.04,.05,.04,.04,.05,.04,.05,.04];
const s4Prn10b = [.07,.08,.07,.08,.07,.06,.07,.08,.07,.07,.08,.07,.07,.08,.08,.07,.08,.09,.08,.08,.07,.08,.07,.08,.07,.08,.07,.07,.08,.07,.08,.1,.12,.09,.1,.13,.1,.08,.09,.08,.07,.08,.07,.06,.07,.06,.06,.07,.06,.06,.05,.06,.05,.06,.05,.05,.06,.05,.05,.06,.05,.05,.06,.05,.05,.06,.05,.06,.05,.06,.05,.05,.06,.05,.05,.06,.06,.05,.06,.06,.05,.06,.07,.06,.07,.06,.06,.07,.06,.07,.06,.06,.07,.06,.07,.06,.06,.07,.06,.07];
const s4Prn21c = [.1,.3,.12,.28,.15,.1,.2,.12,.09,.14,.1,.18,.12,.25,.1,.15,.09,.12,.1,.2,.13,.1,.24,.12,.1,.15,.11,.22,.12,.1,.3,.14,.1,.18,.12,.1,.14,.11,.1,.12,.1,.09,.1,.09];
const s4Prn21d = [.2,.3,.45,.25,.5,.35,.2,.55,.3,.45,.25,.4,.6,.3,.5,.25,.45,.62,.35,.55,.28,.48,.2,.52,.3,.4,.22,.45,.35,.25,.5,.3,.4,.2,.35,.48,.25,.38,.2,.3,.45,.22,.35,.18,.3,.25,.4,.2,.3,.15,.25,.2,.15,.22,.12,.18,.1,.15,.12,.1,.12,.09,.1,.08,.09];
const s4Prn15b = [.1,.15,.12,.2,.25,.15,.32,.2,.12,.28,.15,.22,.1,.18,.25,.12,.2,.1,.15,.08,.12,.18,.1,.22,.14,.1,.16,.09,.12,.08,.1,.14,.09,.12,.08,.1,.07,.09,.12,.08,.1,.07,.08,.1,.07,.09,.06,.08,.07,.09,.06,.08,.07,.06,.08,.1,.07,.09,.12,.08,.1,.15,.09,.12,.18,.1,.14,.2,.12,.1,.15,.22,.1,.14,.09,.12,.2,.1,.08,.12,.09,.1,.08,.07,.09,.08,.07,.08,.07,.06,.07,.06];
const s4Prn13a = [.15,.25,.18,.35,.2,.12,.3,.15,.22,.1,.18,.28,.12,.2,.15,.25,.1,.18,.14,.3,.12,.2,.15,.35,.18,.12,.25,.15,.2,.1,.18,.3,.14,.2,.12,.25,.15,.1,.2,.14,.18,.1,.15,.22,.12,.16,.1,.2,.14,.1,.12,.18,.1,.15,.2,.28,.12,.15,.1,.13,.1,.12,.09,.1,.08,.11,.09,.08,.1,.08,.07,.09,.08,.07,.08,.07,.06,.07,.06,.07,.06,.06,.07,.06,.05,.06,.05,.06];
const s4Prn2d = [.1,.15,.2,.12,.25,.15,.3,.12,.18,.1,.22,.15,.12,.2,.1,.15,.25,.12,.18,.1,.14,.2,.1,.15,.3,.12,.1,.18,.35,.12,.2,.1,.15,.12,.1,.14,.1,.12,.09,.11,.1,.08,.1,.09,.08,.1,.12,.09,.15,.3,.4,.2,.35,.12,.08,.07];
const s4Prn30d = [.18,.2,.15,.17,.14,.16,.12,.13,.11,.12,.1,.11,.09,.1,.08,.09,.07,.08,.07,.06,.07,.06,.07,.08,.07,.06,.07,.08,.09,.08,.1,.09,.11,.1,.12,.11];
const s4Prn31c = [.1,.12,.15,.1,.13,.18,.12,.16,.1,.14,.2,.12,.15,.1,.18,.13,.22,.15,.12,.25,.14,.2,.12,.16,.1,.14,.12,.18,.1,.13,.11,.15,.1,.12,.09,.11,.1,.08,.1,.09,.08,.1,.07,.09,.08,.07,.08,.07,.06,.07,.06,.07];
const s4Prn25b = [.3,.25,.35,.28,.4,.3,.22,.45,.25,.3,.2,.28,.35,.25,.3,.5,.52,.4,.58,.45,.62,.35,.4,.3,.35,.25,.3,.2,.26,.18,.22,.15,.2,.12,.18,.15,.1,.14,.12,.1,.13,.11,.09,.12,.1,.09,.1,.08];
const s4Prn13b = [.1,.15,.2,.12,.3,.15,.1,.2,.4,.15,.12,.22,.1,.18,.12,.28,.1,.15,.35,.12,.2,.1,.15,.12,.1,.14,.09,.12,.1,.08,.1,.09,.08,.07,.08,.07,.06,.07,.06,.07,.06,.07,.06,.05];
const s4Prn24b = [.08,.1,.07,.12,.09,.06,.1,.08,.12,.07,.1,.15,.08,.12,.1,.07,.09,.13,.08,.1,.07,.12,.09,.1,.08,.14,.1,.12,.08,.1,.15,.09,.12,.2,.1,.13,.09,.12,.1,.08,.1,.07,.09,.08,.07,.06,.08,.07,.06,.07,.06,.07,.08,.07,.06,.08,.07,.09,.08,.1,.08,.12,.09,.1,.08,.12,.1,.14,.09,.12,.1,.08,.1,.12,.09,.11,.1,.14,.12,.1,.13,.11,.1,.12,.1,.11,.1,.12];
const s4Prn7 = [.15,.2,.25,.18,.3,.22,.15,.35,.2,.28,.12,.25,.18,.4,.2,.3,.5,.25,.35,.18,.3,.45,.2,.32,.15,.25,.2,.12,.18,.1,.15,.12,.2,.3,.15,.22,.12,.35,.15,.2,.1,.14,.12,.1,.08,.1,.07,.09,.08,.07,.06,.07,.06,.07,.06,.07];
const s4Prn25c = [.12,.2,.15,.3,.18,.25,.12,.35,.2,.28,.15,.22,.3,.18,.12,.25,.15,.32,.2,.38,.25,.15,.2,.3,.12,.18,.1,.22,.15,.35,.38,.2,.12,.15,.1,.12,.09,.1,.08,.09];
const s4Prn12b = [.1,.15,.12,.2,.1,.13,.09,.15,.2,.12,.1,.18,.08,.12,.1,.15,.2,.12,.1,.14,.18,.1,.12,.16,.1,.2,.12,.1,.15,.12,.18,.1,.14,.1,.12,.16,.1,.13,.1,.12,.15,.1,.13,.1,.14,.12,.15,.13];
const s4Prn8b = [.06,.05,.06,.05,.05,.06,.05,.06,.07,.06,.05,.06,.05,.06,.05,.06];
const s4Series = [[2,2.5,0.1,s4Prn2a],[24,6.5,0.1,s4Prn24a],[21,0,0.05,s4Prn21a],[19,0,0.05,s4Prn19],[5,1,0.05,s4Prn5b],[27,0,0.025,s4Prn27a],[5,0,0.025,s4Prn5a],[10,1.1,0.025,s4Prn10a],[15,1.7,0.03,s4Prn15a],[21,3.45,0.025,s4Prn21b],[4,2.9,0.02,s4Prn4],[31,3.7,0.025,s4Prn31a],[31,5.2,0.05,s4Prn31b],[23,5.6,0.025,s4Prn23],[5,5.3,0.02,s4Prn5c],[12,9.3,0.05,s4Prn12a],[25,7.0,0.025,s4Prn25a],[2,8.5,0.025,s4Prn2b],[8,7.3,0.025,s4Prn8a],[10,11,0.1,s4Prn10b],[5,12.8,0.1,s4Prn5d],[30,11.2,0.02,s4Prn30a],[30,12.1,0.05,s4Prn30b],[2,11.9,0.02,s4Prn2c],[21,14.8,0.025,s4Prn21c],[15,16,0.025,s4Prn15b],[13,16.8,0.025,s4Prn13a],[2,17.4,0.025,s4Prn2d],[27,13.5,0.025,s4Prn27b],[30,13.7,0.025,s4Prn30c],[21,16.3,0.02,s4Prn21d],[30,17.7,0.05,s4Prn30d],[24,20.5,0.04,s4Prn24b],[8,22.5,0.1,s4Prn8b],[12,22.8,0.025,s4Prn12b],[13,20.4,0.025,s4Prn13b],[31,19.7,0.025,s4Prn31c],[25,19.6,0.02,s4Prn25b],[7,21.9,0.025,s4Prn7],[25,22.2,0.025,s4Prn25c]];

// ===== sigma-phi series =====
const sigPrn27 = [.02,.01,.03,.02,.01,.02,.03,.01,.02,.01,.03,.02,.01,.02,.03,.02,.01,.03,.02,.04,.01,.02,.03,.02,.01,.03,.02,.01,.04,.02,.03,.01,.02,.03,.01,.02,.01,.03,.02,.01,.02,.01,.02,.01,.02,.01,.02,.01,.01,.02];
const sigPrn20 = [.01,.02,.03,.01,.02,.03,.02,.01,.03,.02,.04,.01,.02,.03,.02,.01,.02,.01,.02,.01,.01,.02,.01,.01,.02,.01,.01,.02,.01,.01];
const sigPrn2 = [.008,.005,.008,.006,.005,.008,.006,.005,.007,.006,.008,.005,.007,.006,.005,.008,.006,.007,.005,.006,.008,.005,.007,.006,.005,.007,.006,.008,.005,.006,.007,.005,.008,.006,.005,.007,.006,.008,.005,.006,.007,.005,.006,.008,.005,.007,.006,.005,.007];
const sigPrn12 = [.02,.015,.02,.018,.015,.02,.018,.015,.02,.018,.015,.02,.018,.02,.03,.035,.03,.04,.035,.03,.035,.03,.025,.02,.018,.02,.015,.018,.02,.015,.02,.025,.03,.025,.02,.015,.02,.018,.015,.025,.03,.025,.03];
const sigPrn20b = [.03,.04,.05,.04,.05,.04,.03,.04,.03,.04,.03,.02];
const sigPrn30 = [.01,.008,.012,.01,.008,.01,.012,.01,.008,.01,.012,.009,.01,.008,.012,.01,.009,.01,.012,.008,.01,.009,.012,.01,.008,.01,.012,.01,.009,.01,.012,.008,.01,.009,.012,.01,.008,.01,.012,.01,.009,.01,.012,.01];
const sigPrn4 = [.02,.22,.01];
const sigPrn30b = [.02,.17,.01];
const sigPrn6 = [.02,.15,.01];
const sigSeries = [[2,0,0.5,sigPrn2],[30,2,0.5,sigPrn30],[12,3,0.5,sigPrn12],[20,0,0.1,sigPrn20],[27,0,0.05,sigPrn27],[20,11.4,0.1,sigPrn20b],[4,18.8,0.05,sigPrn4],[30,19.0,0.05,sigPrn30b],[6,21.15,0.05,sigPrn6]];

// ===== layout =====
const NS = "http://www.w3.org/2000/svg";
const X0 = 190, X1 = 1713;
const panels = [
  {id:"vtec", top:133, bot:381, min:5, max:15, grid:[10], labels:[5,10,15], minor:1, fmt:v=>String(v)},
  {id:"rot", top:387, bot:636, min:-5.6, max:5.6, grid:[-4,-2,0,2,4], labels:[-4,-2,0,2,4], minor:0.5, fmt:v=>String(v)},
  {id:"s4", top:640, bot:891, min:0, max:0.612, grid:[0.1,0.2,0.4], labels:[0,0.1,0.2,0.4], minor:0.05, fmt:v=>String(v)},
  {id:"sigma", top:896, bot:1147, min:0, max:1, grid:[0.1,0.2,0.4,0.6,0.8], labels:[0,0.1,0.2,0.4,0.6,0.8], minor:0.05, fmt:v=>String(v)}
];
function xs(h){ return X0 + h/24*(X1-X0); }
function ys(p,v){ return p.bot - (v-p.min)/(p.max-p.min)*(p.bot-p.top); }
function jet(prn){
  const t = Math.min(31,Math.max(0,prn-1))/31;
  const c = x=>Math.round(255*Math.max(0,Math.min(1,x)));
  return "rgb("+c(Math.min(4*t-1.5,-4*t+4.5))+","+c(Math.min(4*t-0.5,-4*t+3.5))+","+c(Math.min(4*t+0.5,-4*t+2.5))+")";
}
function mk(tag, attrs, parent){
  const e = document.createElementNS(NS, tag);
  for (const k in attrs) e.setAttribute(k, attrs[k]);
  parent.appendChild(e);
  return e;
}
const gGrid = document.getElementById("grids");
const gSer = document.getElementById("series");
const gAx = document.getElementById("axes");
const defs = mk("defs", {}, document.getElementById("chart"));

panels.forEach(p=>{
  const cp = mk("clipPath", {id:"clip-"+p.id}, defs);
  mk("rect", {x:X0, y:p.top, width:X1-X0, height:p.bot-p.top}, cp);
  for (let h=1; h<24; h++){
    const l = mk("line", {x1:xs(h), x2:xs(h), y1:p.top, y2:p.bot, stroke:"#d4d4d4", "stroke-width":3}, gGrid);
    
    
  }
  p.grid.forEach(v=>{
    const l = mk("line", {x1:X0, x2:X1, y1:ys(p,v), y2:ys(p,v), stroke:"#d4d4d4", "stroke-width":3}, gGrid);
    
    
  });
  const box = mk("rect", {x:X0, y:p.top, width:X1-X0, height:p.bot-p.top, fill:"none", stroke:"#262626", "stroke-width":3}, gAx);
  
  
  let d = "";
  for (let k=0; k<=144; k++){
    const x = xs(k/6), len = (k%6===0)?11:6;
    d += "M"+x+" "+p.top+"v"+len+"M"+x+" "+p.bot+"v"+(-len);
  }
  const nMin = Math.round((p.max-p.min)/p.minor);
  for (let k=0; k<=nMin; k++){
    const v = p.min + k*p.minor;
    const y = ys(p,v);
    if (y<p.top-0.5||y>p.bot+0.5) continue;
    d += "M"+X0+" "+y+"h8M"+X1+" "+y+"h-8";
  }
  p.labels.forEach(v=>{ const y=ys(p,v); d += "M"+X0+" "+y+"h13M"+X1+" "+y+"h-13"; });
  const tk = mk("path", {d:d, stroke:"#262626", "stroke-width":3, fill:"none"}, gAx);
  
  
  p.labels.forEach(v=>{
    const t = mk("text", {x:180, y:ys(p,v)+8, "text-anchor":"end", "font-size":23, "font-weight":"bold", fill:"#262626"}, gAx);
    t.textContent = p.fmt(v);
    
    
  });
});

function addPath(p, prn, pts, name){
  let d = "";
  pts.forEach((q,i)=>{ d += (i?"L":"M")+xs(q[0]).toFixed(1)+" "+ys(p,q[1]).toFixed(1); });
  const e = mk("path", {d:d, fill:"none", stroke:jet(prn), "stroke-width":1.8, "stroke-linejoin":"round", "clip-path":"url(#clip-"+p.id+")"}, gSer);
  
  
}
vtecSeries.forEach(s=> addPath(panels[0], s[0], s[1], "vtec-line-prn"+s[0]));
function sampled(s){ return s[3].map((v,i)=>[s[1]+i*s[2], v]); }
rotSeries.forEach(s=> addPath(panels[1], s[0], sampled(s), "rot-line-prn"+s[0]));
s4Series.forEach(s=> addPath(panels[2], s[0], sampled(s), "s4-line-prn"+s[0]));
sigSeries.forEach(s=> addPath(panels[3], s[0], sampled(s), "sigma-line-prn"+s[0]));

hourTickLabels.forEach((lab,i)=>{
  const t = mk("text", {x:xs(i), y:1185, "text-anchor":"middle", "font-size":27, "font-weight":"bold", fill:"#262626"}, gAx);
  t.textContent = lab;
  
  
});

const gC = document.getElementById("cbar");
const CB = {x:1732, w:22, top:253, bot:1018, min:1, max:32};
const cy = v=> CB.bot - (v-CB.min)/(CB.max-CB.min)*(CB.bot-CB.top);
for (let i=0;i<32;i++){
  const h = (CB.bot-CB.top)/32;
  const r = mk("rect", {x:CB.x, y:CB.bot-(i+1)*h, width:CB.w, height:h+0.5, fill:jet(1+i)}, gC);
  
  
}
const cbBox = mk("rect", {x:CB.x, y:CB.top, width:CB.w, height:CB.bot-CB.top, fill:"none", stroke:"#262626", "stroke-width":1.5}, gC);


colorbarTicks.forEach(v=>{
  const y = cy(v);
  const l = mk("line", {x1:CB.x+CB.w-6, x2:CB.x+CB.w, y1:y, y2:y, stroke:"#262626", "stroke-width":1.2}, gC);
  
  
  const t = mk("text", {x:1767, y:y+9, "font-size":26, "font-weight":"bold", fill:"#262626"}, gC);
  t.textContent = String(v);
  
  
});
</script>
</body></html>
